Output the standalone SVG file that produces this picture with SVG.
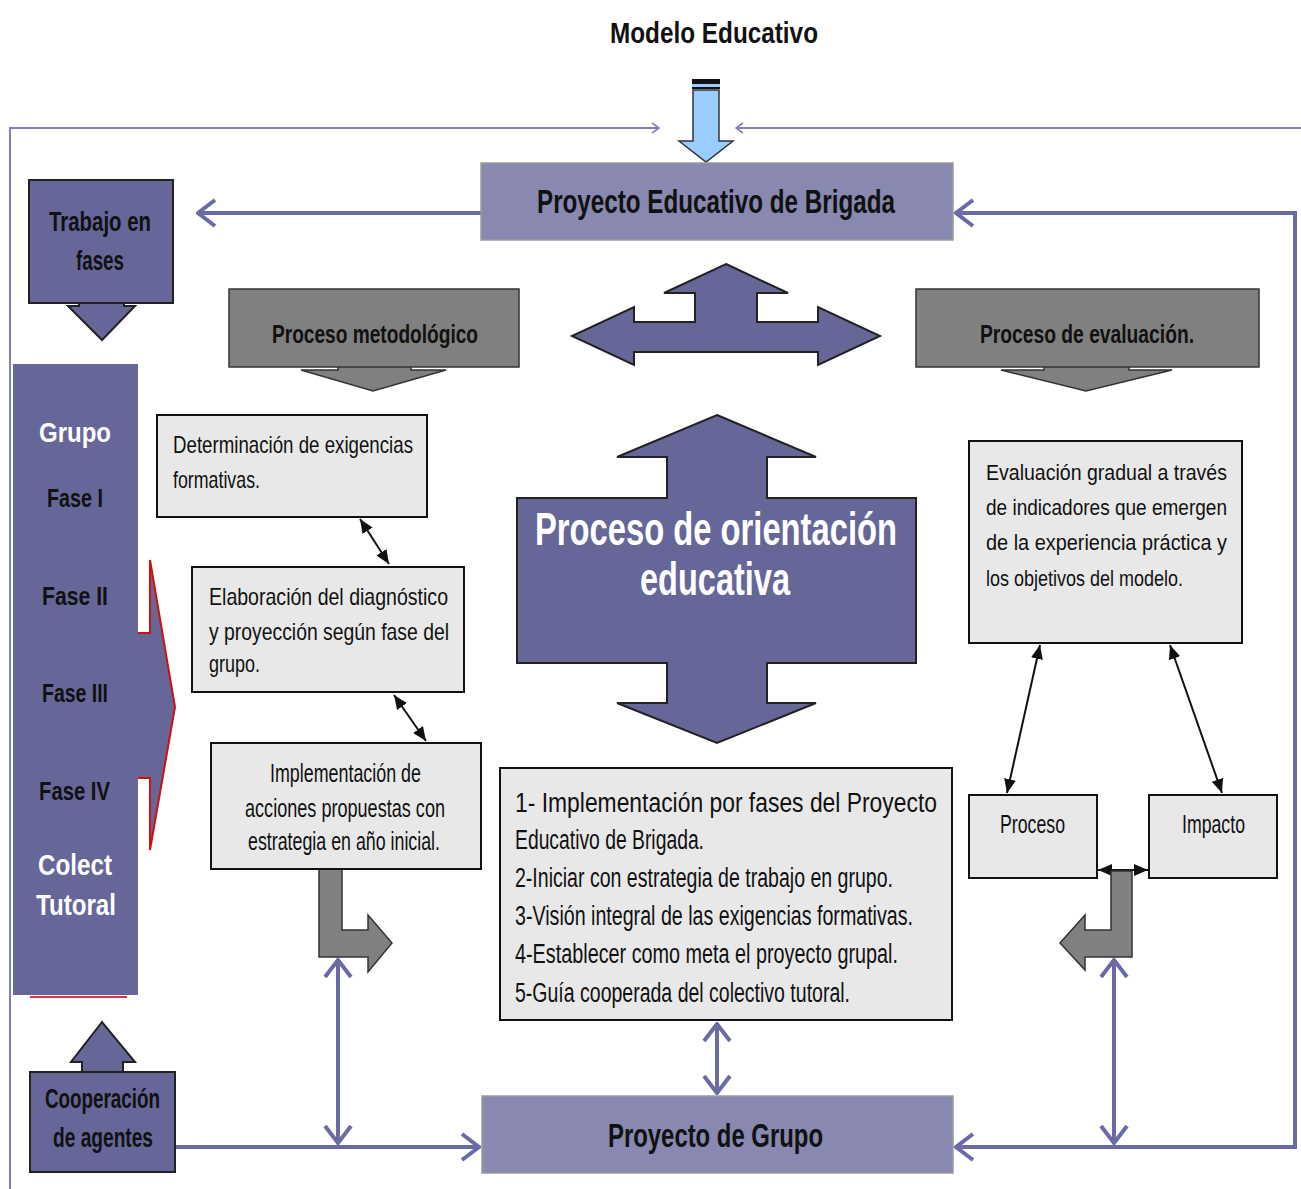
<svg xmlns="http://www.w3.org/2000/svg" width="1301" height="1189" viewBox="0 0 1301 1189">
<style>
text{font-family:"Liberation Sans",Arial,sans-serif;fill:#111;}
.b{font-weight:bold;}
.w{fill:#fff;}
.dark{fill:#666699;stroke:#222;stroke-width:2;}
.gray{fill:#808080;stroke:#333;stroke-width:1.5;}
.light{fill:#e8e8e8;stroke:#111;stroke-width:2;}
.mid{fill:#8888b0;stroke:#9a9a9a;stroke-width:1.5;}
.conn{fill:none;stroke:#6a6aa6;stroke-width:4;}
.thin{fill:none;stroke:#8080b4;stroke-width:2;}
.blk{fill:none;stroke:#111;stroke-width:2;}
</style>
<defs>
<marker id="chev" markerUnits="userSpaceOnUse" markerWidth="22" markerHeight="32" viewBox="0 0 22 32" refX="20" refY="16" orient="auto-start-reverse">
<path d="M3,3 L20,16 L3,29" fill="none" stroke="#6a6aa6" stroke-width="4"/>
</marker>
<marker id="chevs" markerUnits="userSpaceOnUse" markerWidth="10" markerHeight="12" viewBox="0 0 10 12" refX="9" refY="6" orient="auto-start-reverse">
<path d="M2,1 L9,6 L2,11" fill="none" stroke="#8080b4" stroke-width="1.6"/>
</marker>
<marker id="tri" markerUnits="userSpaceOnUse" markerWidth="14" markerHeight="12" viewBox="0 0 14 12" refX="14" refY="6" orient="auto-start-reverse">
<path d="M0,0 L14,6 L0,12 z" fill="#111"/>
</marker>
</defs>

<g id="title">
<text class="b" x="610" y="43" font-size="29" textLength="208" lengthAdjust="spacingAndGlyphs">Modelo Educativo</text>
</g>

<g id="connectors">
<path class="thin" d="M10,1189 L10,128 L659,128" marker-end="url(#chevs)"/>
<path class="thin" d="M1301,128 L736,128" marker-end="url(#chevs)"/>
<path class="conn" d="M481,213 L198,213" marker-end="url(#chev)"/>
<path class="conn" d="M956,213 L1295,213 L1295,1147 L956,1147" marker-start="url(#chev)" marker-end="url(#chev)"/>
<path class="conn" d="M175,1147 L479,1147" marker-end="url(#chev)"/>
<path class="conn" d="M338,960 L338,1143" marker-start="url(#chev)" marker-end="url(#chev)"/>
<path class="conn" d="M1114,960 L1114,1143" marker-start="url(#chev)" marker-end="url(#chev)"/>
<path class="conn" d="M717,1024 L717,1093" marker-start="url(#chev)" marker-end="url(#chev)"/>
<path class="blk" d="M360,519 L389,564" marker-start="url(#tri)" marker-end="url(#tri)"/>
<path class="blk" d="M394,695 L426,741" marker-start="url(#tri)" marker-end="url(#tri)"/>
<path class="blk" d="M1040,645 L1007,793" marker-start="url(#tri)" marker-end="url(#tri)"/>
<path class="blk" d="M1170,645 L1222,793" marker-start="url(#tri)" marker-end="url(#tri)"/>
<path class="blk" d="M1098,870 L1148,870" marker-start="url(#tri)" marker-end="url(#tri)"/>
</g>

<g id="input-arrow">
<rect x="692" y="79" width="28" height="5" fill="#111"/>
<rect x="692" y="84" width="28" height="3" fill="#99ccff"/>
<rect x="692" y="87" width="28" height="2" fill="#111"/>
<polygon points="693,90 719,90 719,141 733,141 706,162 679,141 693,141" fill="#99ccff" stroke="#333" stroke-width="1.5"/>
</g>

<g id="peb">
<rect class="mid" x="481" y="163" width="472" height="77"/>
<text class="b" x="537" y="213" font-size="34" textLength="358" lengthAdjust="spacingAndGlyphs">Proyecto Educativo de Brigada</text>
</g>

<g id="trabajo">
<polygon class="dark" points="79,295 124,295 124,306 135,306 102,340 68,306 79,306"/>
<rect class="dark" x="29" y="180" width="144" height="123"/>
<text class="b" x="49" y="231" font-size="27" textLength="102" lengthAdjust="spacingAndGlyphs">Trabajo  en</text>
<text class="b" x="76" y="270" font-size="27" textLength="48" lengthAdjust="spacingAndGlyphs">fases</text>
</g>

<g id="metodologico">
<polygon class="gray" points="338,360 411,360 411,370 446,370 373,391 301,370 338,370"/>
<rect class="gray" x="229" y="289" width="290" height="78" stroke-width="2"/>
<text class="b" x="272" y="343" font-size="26" textLength="206" lengthAdjust="spacingAndGlyphs">Proceso metodológico</text>
</g>

<g id="evaluacion-head">
<polygon class="gray" points="1044,360 1129,360 1129,370 1172,370 1086,391 1001,370 1044,370"/>
<rect class="gray" x="916" y="289" width="343" height="78" stroke-width="2"/>
<text class="b" x="980" y="343" font-size="26" textLength="214" lengthAdjust="spacingAndGlyphs">Proceso de evaluación.</text>
</g>

<g id="triple-arrow">
<polygon class="dark" points="726,264 788,293 757,293 757,322 818,322 818,307 880,336 818,365 818,352 634,352 634,365 572,336 634,307 634,322 695,322 695,293 664,293"/>
</g>

<g id="grupo">
<polygon points="40,633 150,633 150,560 175,707 150,850 150,778 40,778" fill="#666699" stroke="#cc1111" stroke-width="2"/>
<rect x="13" y="364" width="125" height="631" fill="#666699"/>
<line x1="30" y1="997" x2="127" y2="997" stroke="#dd3344" stroke-width="2"/>
<text class="b w" x="39" y="442" font-size="28" textLength="72" lengthAdjust="spacingAndGlyphs">Grupo</text>
<text class="b" x="47" y="507" font-size="26" textLength="56" lengthAdjust="spacingAndGlyphs">Fase I</text>
<text class="b" x="42" y="605" font-size="26" textLength="66" lengthAdjust="spacingAndGlyphs">Fase  II</text>
<text class="b" x="42" y="702" font-size="26" textLength="66" lengthAdjust="spacingAndGlyphs">Fase III</text>
<text class="b" x="39" y="800" font-size="26" textLength="71" lengthAdjust="spacingAndGlyphs">Fase IV</text>
<text class="b w" x="38" y="875" font-size="29" textLength="74" lengthAdjust="spacingAndGlyphs">Colect</text>
<text class="b w" x="36" y="915" font-size="29" textLength="80" lengthAdjust="spacingAndGlyphs">Tutoral</text>
</g>

<g id="determinacion">
<rect class="light" x="157" y="415" width="270" height="102"/>
<text x="173" y="453" font-size="24" textLength="240" lengthAdjust="spacingAndGlyphs">Determinación  de  exigencias</text>
<text x="173" y="488" font-size="24" textLength="87" lengthAdjust="spacingAndGlyphs">formativas.</text>
</g>

<g id="elaboracion">
<rect class="light" x="192" y="567" width="272" height="125"/>
<text x="209" y="605" font-size="24" textLength="239" lengthAdjust="spacingAndGlyphs">Elaboración   del   diagnóstico</text>
<text x="209" y="640" font-size="24" textLength="240" lengthAdjust="spacingAndGlyphs">y   proyección según fase del</text>
<text x="209" y="672" font-size="24" textLength="51" lengthAdjust="spacingAndGlyphs">grupo.</text>
</g>

<g id="implementacion">
<polygon class="gray" points="319,869 342,869 342,930 368,930 368,915 392,943 368,972 368,957 319,957"/>
<rect class="light" x="211" y="743" width="270" height="126"/>
<text x="270" y="782" font-size="25" textLength="151" lengthAdjust="spacingAndGlyphs">Implementación de</text>
<text x="245" y="817" font-size="25" textLength="200" lengthAdjust="spacingAndGlyphs">acciones propuestas con</text>
<text x="248" y="850" font-size="25" textLength="192" lengthAdjust="spacingAndGlyphs">estrategia en año inicial.</text>
</g>

<g id="orientacion">
<polygon class="dark" points="717,415 816,457 767,457 767,498 916,498 916,663 767,663 767,703 816,703 717,743 617,703 667,703 667,663 517,663 517,498 667,498 667,457 617,457"/>
<text class="b w" x="535" y="545" font-size="47" textLength="362" lengthAdjust="spacingAndGlyphs">Proceso de orientación</text>
<text class="b w" x="640" y="595" font-size="47" textLength="150" lengthAdjust="spacingAndGlyphs">educativa</text>
</g>

<g id="lista">
<rect class="light" x="500" y="768" width="452" height="252"/>
<text x="515" y="812" font-size="27" textLength="422" lengthAdjust="spacingAndGlyphs">1-  Implementación  por  fases  del  Proyecto</text>
<text x="515" y="849" font-size="27" textLength="189" lengthAdjust="spacingAndGlyphs">Educativo de Brigada.</text>
<text x="515" y="887" font-size="27" textLength="378" lengthAdjust="spacingAndGlyphs">2-Iniciar con estrategia  de trabajo  en grupo.</text>
<text x="515" y="925" font-size="27" textLength="398" lengthAdjust="spacingAndGlyphs">3-Visión integral  de  las exigencias  formativas.</text>
<text x="515" y="963" font-size="27" textLength="383" lengthAdjust="spacingAndGlyphs">4-Establecer como meta  el proyecto grupal.</text>
<text x="515" y="1002" font-size="27" textLength="335" lengthAdjust="spacingAndGlyphs">5-Guía cooperada  del colectivo tutoral.</text>
</g>

<g id="evaluacion">
<rect class="light" x="969" y="441" width="273" height="202"/>
<text x="986" y="480" font-size="22" textLength="241" lengthAdjust="spacingAndGlyphs">Evaluación gradual a través</text>
<text x="986" y="515" font-size="22" textLength="241" lengthAdjust="spacingAndGlyphs">de indicadores que emergen</text>
<text x="986" y="550" font-size="22" textLength="241" lengthAdjust="spacingAndGlyphs">de la experiencia práctica y</text>
<text x="986" y="586" font-size="22" textLength="197" lengthAdjust="spacingAndGlyphs">los objetivos del modelo.</text>
</g>

<g id="proceso">
<rect class="light" x="969" y="795" width="128" height="83"/>
<text x="1000" y="833" font-size="25" textLength="65" lengthAdjust="spacingAndGlyphs">Proceso</text>
</g>

<g id="impacto">
<rect class="light" x="1149" y="795" width="128" height="83"/>
<text x="1182" y="833" font-size="25" textLength="63" lengthAdjust="spacingAndGlyphs">Impacto</text>
</g>

<g id="eval-bent-arrow">
<polygon class="gray" points="1111,871 1132,871 1132,957 1085,957 1085,970 1060,943 1085,915 1085,930 1111,930"/>
</g>

<g id="cooperacion">
<polygon class="dark" points="82,1080 82,1062 71,1062 102,1022 135,1062 123,1062 123,1080"/>
<rect class="dark" x="30" y="1072" width="145" height="100"/>
<text class="b" x="45" y="1108" font-size="27" textLength="115" lengthAdjust="spacingAndGlyphs">Cooperación</text>
<text class="b" x="53" y="1147" font-size="27" textLength="100" lengthAdjust="spacingAndGlyphs">de agentes</text>
</g>

<g id="proyecto-grupo">
<rect class="mid" x="482" y="1096" width="471" height="77"/>
<text class="b" x="608" y="1147" font-size="34" textLength="215" lengthAdjust="spacingAndGlyphs">Proyecto de Grupo</text>
</g>
</svg>
